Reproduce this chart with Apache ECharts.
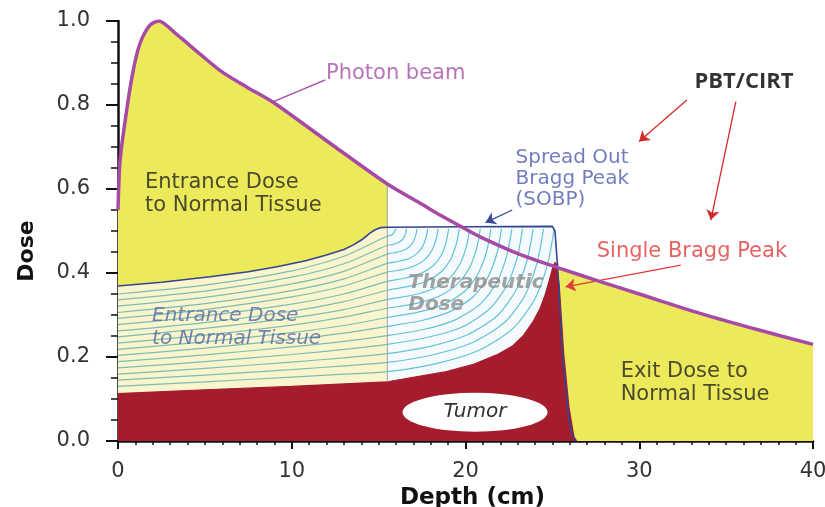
<!DOCTYPE html>
<html><head><meta charset="utf-8">
<script src="https://cdn.jsdelivr.net/npm/echarts@6/dist/echarts.min.js"></script>
<style>html,body{margin:0;padding:0;background:#fff;overflow:hidden}#c{width:825px;height:507px}</style>
</head><body><div id="c"></div>
<script>
// ---- axis ticks ----
const xTicks = [0, 10, 20, 30, 40];
const yTicks = [0, 0.2, 0.4, 0.6, 0.8, 1.0];

// ---- photon beam depth-dose ----
const photonDepth = [0, 0.12, 0.5, 0.88, 1.27, 1.84, 2.35, 3.38, 4.73, 5.88, 7.4, 8.95, 12.4, 15.5, 17.4, 18.4, 19.9, 20.9, 23.2, 25.3, 27.8, 30, 33.5, 37, 40];
const photonDose  = [0.55, 0.669, 0.788, 0.883, 0.947, 0.99, 1.0, 0.968, 0.921, 0.882, 0.843, 0.806, 0.703, 0.612, 0.566, 0.541, 0.507, 0.485, 0.443, 0.413, 0.379, 0.350, 0.304, 0.263, 0.23];

// ---- spread out Bragg peak ----
const sobpDepth = [0, 2.5, 5.3, 7.5, 9.15, 10.8, 12, 13, 13.55, 14.1, 14.5, 14.8, 15.1, 15.5, 20, 25.0, 25.15, 25.3, 25.57, 25.95, 26.15, 26.34];
const sobpDose  = [0.369, 0.378, 0.391, 0.403, 0.415, 0.429, 0.443, 0.456, 0.467, 0.481, 0.495, 0.503, 0.508, 0.509, 0.51, 0.511, 0.50, 0.415, 0.209, 0.05, 0.015, 0];

// ---- single (pristine) Bragg peak ----
const braggDepth = [0, 5, 10, 15.5, 18.9, 20.5, 21.8, 22.7, 23.35, 23.9, 24.3, 24.6, 24.8, 25.0, 25.15, 25.25, 25.4, 25.65, 25.95, 26.24, 26.4];
const braggDose  = [0.113, 0.122, 0.13, 0.141, 0.165, 0.183, 0.205, 0.226, 0.252, 0.285, 0.316, 0.35, 0.379, 0.41, 0.425, 0.42, 0.368, 0.209, 0.082, 0.01, 0];

// ---- component beam contour lines ----
const contour01 = [[0,.130],[5,.141],[10,.152],[13,.159],[15.5,.165],[18.38,.185],[20.78,.216],[22.70,.267],[23.95,.335],[24.72,.420],[25.10,.505]];
const contour02 = [[0,.145],[5,.157],[10,.170],[13,.179],[15.5,.187],[18.20,.206],[20.44,.235],[22.24,.282],[23.41,.346],[24.13,.426],[24.49,.505]];
const contour03 = [[0,.159],[5,.173],[10,.188],[13,.198],[15.5,.208],[18.02,.226],[20.11,.253],[21.79,.297],[22.88,.357],[23.55,.431],[23.89,.505]];
const contour04 = [[0,.174],[5,.189],[10,.206],[13,.218],[15.5,.230],[17.83,.247],[19.78,.271],[21.34,.313],[22.35,.368],[22.97,.436],[23.28,.505]];
const contour05 = [[0,.189],[5,.205],[10,.224],[13,.237],[15.5,.251],[17.65,.266],[19.44,.289],[20.88,.327],[21.81,.378],[22.38,.442],[22.67,.505]];
const contour06 = [[0,.204],[5,.221],[10,.242],[13,.257],[15.5,.273],[17.47,.287],[19.11,.308],[20.43,.343],[21.28,.389],[21.81,.447],[22.07,.505]];
const contour07 = [[0,.218],[5,.236],[10,.258],[13,.275],[15.5,.294],[17.29,.307],[18.78,.326],[19.97,.357],[20.74,.400],[21.22,.452],[21.46,.505]];
const contour08 = [[0,.233],[5,.252],[10,.276],[13,.295],[15.5,.316],[17.11,.327],[18.44,.344],[19.51,.373],[20.21,.411],[20.64,.458],[20.85,.505]];
const contour09 = [[0,.248],[5,.268],[10,.293],[13,.313],[15.5,.337],[16.92,.347],[18.11,.362],[19.06,.387],[19.67,.421],[20.05,.463],[20.24,.505]];
const contour10 = [[0,.262],[5,.282],[10,.309],[13,.332],[15.5,.359],[16.74,.368],[17.78,.381],[18.61,.403],[19.14,.432],[19.47,.469],[19.64,.505]];
const contour11 = [[0,.277],[5,.298],[10,.326],[13,.350],[15.5,.380],[16.56,.388],[17.44,.399],[18.15,.418],[18.61,.443],[18.89,.474],[19.03,.505]];
const contour12 = [[0,.292],[5,.313],[10,.343],[13,.369],[15.5,.402],[16.38,.408],[17.11,.418],[17.69,.433],[18.07,.454],[18.30,.479],[18.42,.505]];
const contour13 = [[0,.306],[5,.327],[10,.358],[13,.386],[15.5,.423],[16.20,.428],[16.78,.435],[17.24,.448],[17.54,.464],[17.73,.485],[17.82,.505]];
const contour14 = [[0,.321],[5,.342],[10,.374],[13,.404],[15.5,.445],[16.01,.449],[16.44,.454],[16.78,.463],[17.00,.475],[17.14,.490],[17.21,.505]];
const contour15 = [[0,.336],[5,.357],[10,.390],[13,.422],[15.5,.466],[15.83,.468],[16.11,.472],[16.33,.478],[16.47,.486],[16.56,.495],[16.60,.505]];
const contour16 = [[0,.350],[5,.371],[10,.405],[13,.440],[15.5,.488],[15.78,.491],[16.0,.505]];
const contourLines = [contour01,contour02,contour03,contour04,contour05,contour06,contour07,contour08,contour09,contour10,contour11,contour12,contour13,contour14,contour15,contour16];

// ---- boundary between entrance and therapeutic zones ----
const dividerDepth = [15.5, 15.5];
const dividerDose  = [0.141, 0.612];

// ---- tumour marker ----
const tumorCenter = [20.55, 0.0685];

// ---- annotations (text + anchor in data units) ----
const annotationTexts = ['Photon beam', 'PBT/CIRT', 'Spread Out\nBragg Peak\n(SOBP)', 'Single Bragg Peak',
  'Entrance Dose\nto Normal Tissue', 'Entrance Dose\nto Normal Tissue', 'Therapeutic\nDose', 'Exit Dose to\nNormal Tissue'];
const annotationAnchors = [[11.97,0.876],[36.03,0.855],[22.88,0.624],[33.03,0.45],[1.556,0.589],[1.96,0.270],[16.71,0.35],[28.93,0.139]];
const arrowFrom = [[11.93,0.86],[32.74,0.812],[35.56,0.808],[22.69,0.55],[32.39,0.419]];
const arrowTo   = [[8.88,0.807],[29.99,0.713],[34.12,0.526],[21.15,0.52],[25.76,0.367]];

// ---------------- build ----------------
const FONT = 'DejaVu Sans';
const YELLOW = '#ecea5a', RED = '#a51d2c', CREAM = '#f8f5cf', THER = '#f5fbfc';
const ZONE_EDGE = dividerDepth[0];
const pairs = (xs, ys) => xs.map((x, i) => [x, ys[i]]);
const photon = pairs(photonDepth, photonDose);
const sobp = pairs(sobpDepth, sobpDose);
const bragg = pairs(braggDepth, braggDose);

const annStyles = [
  {color:'#a551a8', fontSize:21, align:'left'},
  {color:'#000', fontSize:22, fontWeight:'bold', fontFamily:'Open Sans', align:'center'},
  {color:'#4f5cb0', fontSize:20, lineHeight:21, align:'left'},
  {color:'#e03b3b', fontSize:21, align:'center'},
  {color:'#222', fontSize:21, lineHeight:23, align:'left'},
  {color:'#5868a8', fontSize:20, lineHeight:23, fontStyle:'italic', align:'left'},
  {color:'#8c8c8c', fontSize:20, lineHeight:22, fontStyle:'italic', fontWeight:'bold', align:'left'},
  {color:'#222', fontSize:21, lineHeight:23, align:'left'}
];
const arrowColors = ['#a64aa6', '#d42a2a', '#d42a2a', '#3b4a9c', '#e03a3a'];

const series = [];
series.push({type:'line', z:1, data:photon.filter(p=>p[0]<=15.5), smooth:0.25, symbol:'none', lineStyle:{width:0}, areaStyle:{color:YELLOW, opacity:1}, silent:true});
series.push({type:'line', z:1, data:photon.filter(p=>p[0]>=25.3), smooth:0.25, symbol:'none', lineStyle:{width:0}, areaStyle:{color:YELLOW, opacity:1}, silent:true});
series.push({type:'line', z:2, data:sobp.filter(p=>p[0]<=15.5), symbol:'none', lineStyle:{width:0}, areaStyle:{color:CREAM, opacity:1}, silent:true});
series.push({type:'line', z:2, data:sobp.filter(p=>p[0]>=15.5), symbol:'none', lineStyle:{width:0}, areaStyle:{color:THER, opacity:1}, silent:true});
contourLines.forEach(c => {
  const xmax = c[c.length - 1][0];
  const f = ZONE_EDGE / xmax;
  series.push({type:'line', z:3, data:c, smooth:0.25, symbol:'none', silent:true,
    lineStyle:{width:1.2, color:{type:'linear', x:0, y:0, x2:1, y2:0, colorStops:[
      {offset:0, color:'#7dbdb0'}, {offset:f, color:'#7dbdb0'}, {offset:Math.min(1, f + 0.001), color:'#64c2d5'}, {offset:1, color:'#64c2d5'}]}}});
});
series.push({type:'line', z:4, data:bragg, symbol:'none', lineStyle:{width:1.2, color:RED}, areaStyle:{color:RED, opacity:1}, silent:true,
  markPoint:{silent:true, animation:false, data:[{coord:tumorCenter, symbol:'circle', symbolSize:[145, 39], itemStyle:{color:'#fff'},
    label:{show:true, position:'inside', formatter:'Tumor', color:'#333', fontFamily:FONT, fontSize:20, fontStyle:'italic'}}]}});
series.push({type:'line', z:5, data:pairs(dividerDepth, dividerDose), symbol:'none', lineStyle:{width:1, color:'#9ca2aa'}, silent:true});
series.push({type:'line', z:5, data:sobp, symbol:'none', lineStyle:{width:1.6, color:'#33458f'}, silent:true});
series.push({type:'line', z:6, data:photon, smooth:0.25, symbol:'none', lineStyle:{width:3.5, color:'#a64aa6'}, silent:true});
series.push({type:'scatter', z:10, symbolSize:0, silent:true,
  data: annotationTexts.map((t, i) => ({value: annotationAnchors[i], label: Object.assign({show:true, position:'inside', formatter:t, fontFamily:FONT, verticalAlign:'middle'}, annStyles[i])}))
});
series.push({type:'line', z:10, data:[], silent:true,
  markLine: {silent:true, animation:false, symbol:['none','arrow'], symbolSize:10, label:{show:false},
    data: arrowFrom.map((f, i) => [
      {coord:f, lineStyle:{color:arrowColors[i], width:1.3, type:'solid'}, symbol:'none'},
      {coord:arrowTo[i], symbol: i === 0 ? 'none' : 'arrow'}
    ])}
});

const chart = echarts.init(document.getElementById('c'), null, {renderer:'canvas'});
chart.setOption({
  animation:false,
  backgroundColor:'#fff',
  grid:{left:118, right:12, top:21, bottom:66, containLabel:false, outerBoundsMode:'none'},
  xAxis:{type:'value', min:xTicks[0], max:xTicks[xTicks.length-1], interval:xTicks[1]-xTicks[0],
    name:'Depth (cm)', nameLocation:'middle', nameGap:42,
    nameTextStyle:{fontFamily:FONT, fontWeight:'bold', fontSize:23, color:'#111', padding:[0,0,0,14]},
    axisLine:{lineStyle:{color:'#111', width:2.5}},
    axisTick:{length:8, lineStyle:{color:'#111', width:2}},
    minorTick:{show:true, splitNumber:10, length:4, lineStyle:{color:'#111', width:1.5}},
    splitLine:{show:false},
    axisLabel:{fontFamily:FONT, fontSize:21, color:'#333', margin:20}},
  yAxis:{type:'value', min:yTicks[0], max:yTicks[yTicks.length-1], interval:yTicks[1]-yTicks[0],
    name:'Dose', nameLocation:'middle', nameGap:80,
    nameTextStyle:{fontFamily:FONT, fontWeight:'bold', fontSize:22, color:'#111', padding:[0,40,0,0]},
    axisLine:{show:true, lineStyle:{color:'#111', width:2.5}},
    axisTick:{show:true, length:12, lineStyle:{color:'#111', width:2}},
    minorTick:{show:true, splitNumber:4, length:7, lineStyle:{color:'#111', width:1.5}},
    splitLine:{show:false},
    axisLabel:{fontFamily:FONT, fontSize:21, color:'#333', margin:28, formatter:v=>v.toFixed(1)}},
  series
});
</script></body></html>
